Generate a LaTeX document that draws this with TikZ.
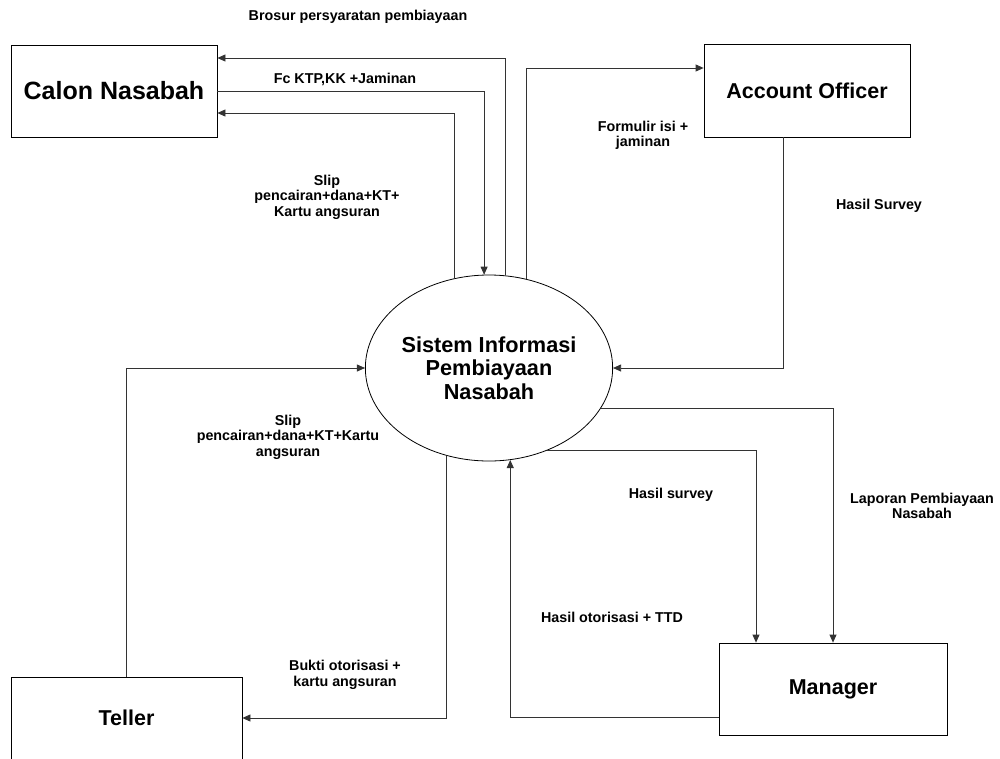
\documentclass[tikz,border=0pt]{standalone}
\usepackage{fontspec}
\setmainfont{Liberation Sans}
\usetikzlibrary{shapes.geometric,arrows.meta}
\begin{document}
\begin{tikzpicture}[x=1pt,y=-1pt,
  entity/.style={draw=black, line width=0.8pt, inner sep=0pt,
    font=\bfseries\fontsize{21.5}{24}\selectfont},
  proc/.style={draw=black, line width=0.8pt, ellipse, inner sep=0pt,
    minimum width=214pt, minimum height=186pt, align=center,
    font=\bfseries\fontsize{21.7}{23.5}\selectfont},
  lbl/.style={font=\bfseries\fontsize{14.3}{15.5}\selectfont, align=center, inner sep=0pt},
  flow/.style={draw=black!80, line width=0.8pt, -{Triangle[length=8pt,width=7pt]}}
]
\useasboundingbox (0,0) rectangle (1000,758);

% entities
\node[entity, minimum width=206pt, minimum height=92pt,
      font=\bfseries\fontsize{25}{28}\selectfont] (calon) at (114,91) {Calon Nasabah};
\node[entity, minimum width=206pt, minimum height=93pt] (ao) at (807,90.5) {Account Officer};
\node[entity, minimum width=228pt, minimum height=92pt] (mgr) at (833,689) {Manager};
\node[entity, minimum width=231pt, minimum height=82pt] (teller) at (126.5,718) {Teller};

% process
\node[proc] (circ) at (489,368) {Sistem Informasi\\Pembiayaan\\Nasabah};

% flows
\draw[flow] (circ.80.7) |- ([yshift=33pt]calon.east);
\draw[flow] (calon.east) -| (circ.93.7);
\draw[flow] (circ.111.1) |- ([yshift=-22pt]calon.east);
\draw[flow] (circ.67.0) |- ([yshift=22.5pt]ao.west);
\draw[flow] ([xshift=-24pt]ao.south) |- (circ.east);
\draw[flow] (circ.-20.6) -| (mgr.north);
\draw[flow] (circ.-55.7) -| ([xshift=-77pt]mgr.north);
\draw[flow] ([yshift=-28pt]mgr.west) -| (circ.-77.7);
\draw[flow] (teller.north) |- (circ.west);
\draw[flow] (circ.-116.8) |- (teller.east);

% labels
\node[lbl] (l1) at (358,17) {Brosur persyaratan pembiayaan};
\node[lbl] (l2) at (345,79) {Fc KTP,KK +Jaminan};
\node[lbl] (l3) at (327,197) {Slip\\pencairan+dana+KT+\\Kartu angsuran};
\node[lbl] (l4) at (643,135.5) {Formulir isi +\\jaminan};
\node[lbl] (l5) at (879,206) {Hasil Survey};
\node[lbl] (l6) at (288,437) {Slip\\pencairan+dana+KT+Kartu\\angsuran};
\node[lbl] (l7) at (345,675) {Bukti otorisasi +\\kartu angsuran};
\node[lbl] (l8) at (671,495) {Hasil survey};
\node[lbl] (l9) at (922,506) {Laporan Pembiayaan\\Nasabah};
\node[lbl] (l10) at (612,617) {Hasil otorisasi + TTD};
\end{tikzpicture}
\end{document}
